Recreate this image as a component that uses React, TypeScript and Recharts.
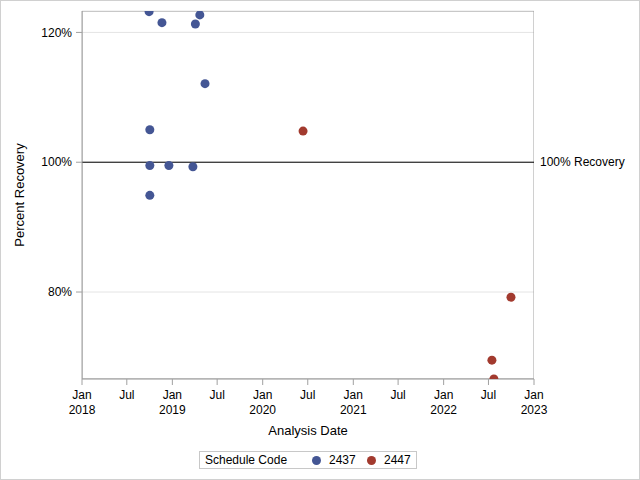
import React from 'react';
import {
  ScatterChart, Scatter, XAxis, YAxis, CartesianGrid, ReferenceLine, ReferenceArea, Legend,
} from 'recharts';

const blueDates = ['2018-09-29', '2018-11-20', '2019-04-04', '2019-04-22', '2019-05-13', '2018-10-02', '2018-10-02', '2018-12-18', '2019-03-25', '2018-10-02'];
const blueValues = [123.2, 121.5, 121.3, 122.7, 112.1, 105.0, 99.5, 99.5, 99.3, 94.9];
const redDates = ['2020-06-12', '2022-07-15', '2022-07-23', '2022-09-30'];
const redValues = [104.8, 69.5, 66.6, 79.2];

const xTickDates = ['2018-01-01', '2018-07-01', '2019-01-01', '2019-07-01', '2020-01-01', '2020-07-01', '2021-01-01', '2021-07-01', '2022-01-01', '2022-07-01', '2023-01-01'];
const yTicks = [80, 100, 120];
const seriesNames = ['2437', '2447'];
const colors = ['#445694', '#A23A2E'];

const toMs = (d: string) => Date.parse(d + 'T00:00:00Z');
const blueData = blueDates.map((d, i) => ({ x: toMs(d), y: blueValues[i] }));
const redData = redDates.map((d, i) => ({ x: toMs(d), y: redValues[i] }));
const xTicks = xTickDates.map(toMs);
const xDomain = [xTicks[0], xTicks[xTicks.length - 1]];
const yDomain = [66.6, 123.3];

const FONT = '"Liberation Sans", Arial, sans-serif';
const AXIS = '#a0a0a0';

const XTick = (props: any) => {
  const { x, y, payload } = props;
  const d = new Date(payload.value);
  const m = d.getUTCMonth() === 0 ? 'Jan' : 'Jul';
  return (
    <text x={x} y={y} textAnchor="middle" fontSize={12} fill="#000" fontFamily={FONT}>
      <tspan x={x} dy={12}>{m}</tspan>
      {m === 'Jan' ? <tspan x={x} dy={15}>{d.getUTCFullYear()}</tspan> : null}
    </text>
  );
};

const Dot = (props: any) => {
  const { cx, cy, fill } = props;
  return <circle cx={cx} cy={cy} r={4.5} fill={fill} />;
};

const LegendBox = () => (
  <div style={{ position: 'relative', width: 218, height: 18, boxSizing: 'border-box', border: '1px solid #c8c8c8', fontFamily: FONT, fontSize: 12, color: '#000', background: '#fff' }}>
    <span style={{ position: 'absolute', left: 5, top: 1 }}>Schedule Code</span>
    <span style={{ position: 'absolute', left: 112, top: 4, width: 9, height: 9, borderRadius: '50%', background: colors[0] }} />
    <span style={{ position: 'absolute', left: 129, top: 1 }}>{seriesNames[0]}</span>
    <span style={{ position: 'absolute', left: 167, top: 4, width: 9, height: 9, borderRadius: '50%', background: colors[1] }} />
    <span style={{ position: 'absolute', left: 184, top: 1 }}>{seriesNames[1]}</span>
  </div>
);

export default function App() {
  return (
    <div style={{ position: 'fixed', left: 0, top: 0, width: 640, height: 480, background: '#fff' }}>
      <ScatterChart width={640} height={480} margin={{ top: 11, right: 106, left: 0, bottom: 41 }} style={{ fontFamily: FONT }}>
        <CartesianGrid horizontal={true} vertical={false} stroke="#e4e4e4" />
        <XAxis
          type="number"
          dataKey="x"
          domain={xDomain}
          ticks={xTicks}
          interval={0}
          allowDataOverflow
          height={60}
          tick={<XTick />}
          tickSize={6}
          stroke={AXIS}
          label={{ value: 'Analysis Date', position: 'insideBottom', offset: 4, fontSize: 13, fill: '#000', fontFamily: FONT }}
        />
        <YAxis
          type="number"
          dataKey="y"
          domain={yDomain}
          ticks={yTicks}
          interval={0}
          allowDataOverflow
          width={82}
          tickSize={6}
          tickMargin={4}
          stroke={AXIS}
          tick={{ fontSize: 12, fill: '#000', fontFamily: FONT }}
          tickFormatter={(v: number) => `${v}%`}
          label={{ value: 'Percent Recovery', angle: -90, position: 'insideLeft', offset: 19, fontSize: 13, fill: '#000', fontFamily: FONT, style: { textAnchor: 'middle' } }}
        />
        <ReferenceArea x1={xDomain[0]} x2={xDomain[1]} y1={yDomain[0]} y2={yDomain[1]} fill="none" stroke={AXIS} ifOverflow="hidden" />
        <ReferenceLine
          y={100}
          stroke="#000"
          strokeWidth={1}
          label={{ value: '100% Recovery', position: 'right', offset: 6, fontSize: 12, fill: '#000', fontFamily: FONT }}
        />
        <Scatter name={seriesNames[0]} data={blueData} fill={colors[0]} shape={<Dot />} isAnimationActive={false} />
        <Scatter name={seriesNames[1]} data={redData} fill={colors[1]} shape={<Dot />} isAnimationActive={false} />
        <Legend
          layout="horizontal"
          verticalAlign="middle"
          align="center"
          content={<LegendBox />}
          wrapperStyle={{ position: 'absolute', left: 199, top: 451, width: 218, height: 18 }}
        />
      </ScatterChart>
      <div style={{ position: 'absolute', left: 0, top: 0, width: 640, height: 480, boxSizing: 'border-box', border: '1px solid #d0d0d0', pointerEvents: 'none' }} />
    </div>
  );
}
